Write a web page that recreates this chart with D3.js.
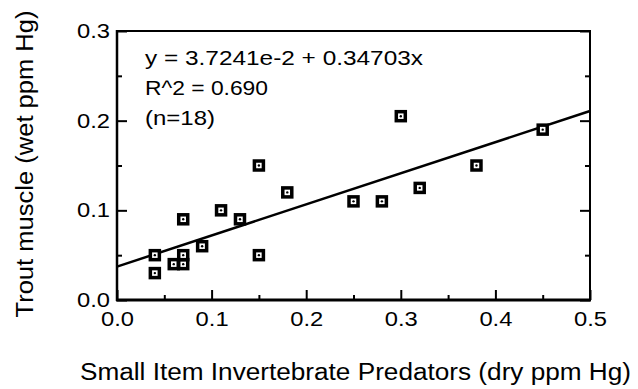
<!DOCTYPE html>
<html>
<head>
<meta charset="utf-8">
<script src="https://cdn.jsdelivr.net/npm/d3@7"></script>
<style>
  body { margin: 0; background: #fff; }
  text { font-family: "Liberation Sans", Arial, sans-serif; fill: #000; }
</style>
</head>
<body>
<div id="chart"></div>
<script>
// data
const predatorHg = [0.04, 0.04, 0.06, 0.07, 0.07, 0.07, 0.09, 0.11, 0.13,
                    0.15, 0.15, 0.18, 0.25, 0.28, 0.30, 0.32, 0.38, 0.45];
const troutHg    = [0.05, 0.03, 0.04, 0.04, 0.05, 0.09, 0.06, 0.10, 0.09,
                    0.15, 0.05, 0.12, 0.11, 0.11, 0.205, 0.125, 0.15, 0.19];

// fitted line
const intercept = 3.7241e-2;
const slope = 0.34703;
const fitText = ["y = 3.7241e-2 + 0.34703x", "R^2 = 0.690", "(n=18)"];
const fitTextWidth = [278, 123, 70];   // measured widths of the scanned text

const xTicks = [0, 0.1, 0.2, 0.3, 0.4, 0.5];
const xMinor = [0.05, 0.15, 0.25, 0.35, 0.45];
const yTicks = [0, 0.1, 0.2, 0.3];
const yMinor = [0.05, 0.15, 0.25];

const width = 638, height = 389;
const plotLeft = 117, plotRight = 590, plotTop = 31, plotBottom = 300;

const svg = d3.select("#chart").append("svg")
    .attr("width", width)
    .attr("height", height);

const x = d3.scaleLinear().domain([0, 0.5]).range([plotLeft, plotRight]);
const y = d3.scaleLinear().domain([0, 0.3]).range([plotBottom, plotTop]);

// frame
svg.append("rect")
    .attr("x", plotLeft).attr("y", plotTop)
    .attr("width", plotRight - plotLeft).attr("height", plotBottom - plotTop)
    .attr("fill", "none").attr("stroke", "#000").attr("stroke-width", 2);

// axes, ticks pointing inward
svg.append("g")
    .attr("class", "axis")
    .attr("transform", `translate(0,${plotBottom})`)
    .call(d3.axisBottom(x).tickValues(xTicks).tickFormat(d3.format(".1f"))
        .tickSizeInner(-10).tickSizeOuter(0).tickPadding(12));

svg.append("g")
    .attr("transform", `translate(0,${plotBottom})`)
    .call(d3.axisBottom(x).tickValues(xMinor).tickFormat("")
        .tickSizeInner(-5).tickSizeOuter(0));

svg.append("g")
    .attr("class", "axis")
    .attr("transform", `translate(${plotLeft},0)`)
    .call(d3.axisLeft(y).tickValues(yTicks).tickFormat(d3.format(".1f"))
        .tickSizeInner(-10).tickSizeOuter(0).tickPadding(7));

svg.append("g")
    .attr("transform", `translate(${plotLeft},0)`)
    .call(d3.axisLeft(y).tickValues(yMinor).tickFormat("")
        .tickSizeInner(-5).tickSizeOuter(0));

// mirrored ticks on the right side
svg.append("g")
    .attr("transform", `translate(${plotRight},0)`)
    .call(d3.axisRight(y).tickValues(yTicks).tickFormat("")
        .tickSizeInner(-10).tickSizeOuter(0));
svg.append("g")
    .attr("transform", `translate(${plotRight},0)`)
    .call(d3.axisRight(y).tickValues(yMinor).tickFormat("")
        .tickSizeInner(-5).tickSizeOuter(0));

svg.selectAll(".domain").remove();
svg.selectAll(".tick line").attr("stroke", "#000").attr("stroke-width", 2);
svg.selectAll(".tick text")
    .style("font-family", "Liberation Sans, Arial, sans-serif")
    .style("font-size", "20px")
    .attr("fill", "#000")
    .attr("textLength", 33)
    .attr("lengthAdjust", "spacingAndGlyphs");

// heavier bottom and left edges
svg.append("line")
    .attr("x1", plotLeft - 1).attr("x2", plotRight + 1)
    .attr("y1", plotBottom).attr("y2", plotBottom)
    .attr("stroke", "#000").attr("stroke-width", 3);
svg.append("line")
    .attr("x1", plotLeft).attr("x2", plotLeft)
    .attr("y1", plotTop - 1).attr("y2", plotBottom + 1)
    .attr("stroke", "#000").attr("stroke-width", 2.5);

// regression line
svg.append("line")
    .attr("x1", x(0)).attr("y1", y(intercept))
    .attr("x2", x(0.5)).attr("y2", y(intercept + slope * 0.5))
    .attr("stroke", "#000").attr("stroke-width", 2.5);

// points: heavy open squares with a small dot
const pts = svg.append("g")
    .selectAll("g")
    .data(d3.zip(predatorHg, troutHg))
    .enter().append("g")
    .attr("transform", d => `translate(${x(d[0])},${y(d[1])})`);

pts.append("rect")
    .attr("x", -4.5).attr("y", -4.5)
    .attr("width", 9).attr("height", 9)
    .attr("fill", "#fff").attr("stroke", "#000").attr("stroke-width", 3.5);

pts.append("circle")
    .attr("r", 1.2)
    .attr("fill", "#000");

// fit annotation
svg.append("g")
    .selectAll("text")
    .data(fitText)
    .enter().append("text")
    .attr("x", 145)
    .attr("y", (d, i) => 65 + i * 30)
    .style("font-size", "21px")
    .attr("textLength", (d, i) => fitTextWidth[i])
    .attr("lengthAdjust", "spacingAndGlyphs")
    .text(d => d);

// axis titles
svg.append("text")
    .attr("x", (80 + 631) / 2)
    .attr("y", 380)
    .attr("text-anchor", "middle")
    .style("font-size", "23px")
    .attr("textLength", 551)
    .attr("lengthAdjust", "spacingAndGlyphs")
    .text("Small Item Invertebrate Predators (dry ppm Hg)");

svg.append("text")
    .attr("transform", "translate(33,164) rotate(-90)")
    .attr("text-anchor", "middle")
    .style("font-size", "23px")
    .attr("textLength", 307)
    .attr("lengthAdjust", "spacingAndGlyphs")
    .text("Trout muscle (wet ppm Hg)");
</script>
</body>
</html>
